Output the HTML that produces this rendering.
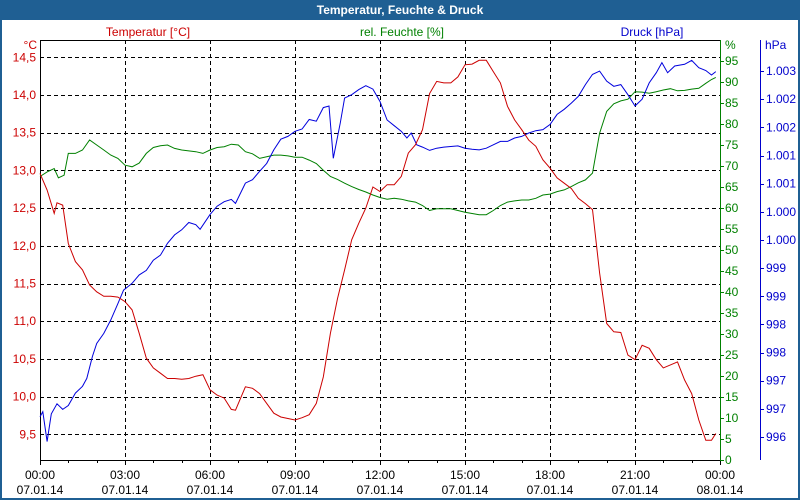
<!DOCTYPE html>
<html><head><meta charset="utf-8"><style>
body{margin:0;background:#fff;}
#wrap{position:relative;width:800px;height:500px;overflow:hidden;font-family:"Liberation Sans",sans-serif;}
text{font-family:"Liberation Sans",sans-serif;font-size:12px;}
</style></head><body>
<div id="wrap">
<svg id="chart" width="800" height="500" xmlns="http://www.w3.org/2000/svg">
<rect x="0" y="0" width="800" height="500" fill="#1f5f93"/>
<rect x="2" y="20" width="796" height="478" fill="#ffffff"/>
<text x="400" y="14" text-anchor="middle" fill="#ffffff" font-weight="bold">Temperatur, Feuchte &amp; Druck</text>
<text x="148" y="36" text-anchor="middle" fill="#cc0000">Temperatur [°C]</text>
<text x="402" y="36" text-anchor="middle" fill="#008000">rel. Feuchte [%]</text>
<text x="652" y="36" text-anchor="middle" fill="#0000cc">Druck [hPa]</text>
<g id="grid"></g><g id="axes"></g><g id="series"></g>
</svg>
</div>
<script>
const xTickLabels=["00:00","03:00","06:00","09:00","12:00","15:00","18:00","21:00","00:00"];
const xDateLabels=["07.01.14","07.01.14","07.01.14","07.01.14","07.01.14","07.01.14","07.01.14","07.01.14","08.01.14"];
const tempTicks=[9.5,10.0,10.5,11.0,11.5,12.0,12.5,13.0,13.5,14.0,14.5];
const humTicks=[0,5,10,15,20,25,30,35,40,45,50,55,60,65,70,75,80,85,90,95];
const presTicks=[996,996.5,997,997.5,998,998.5,999,999.5,1000,1000.5,1001,1001.5,1002,1002.5];
const presTickLabels=["996","997","997","998","998","999","999","1.000","1.000","1.001","1.001","1.002","1.002","1.003"];

const tempHours=[0,0.25,0.5,0.6,0.8,1,1.25,1.5,1.75,2,2.25,2.5,2.75,3,3.25,3.5,3.75,4,4.25,4.5,4.75,5,5.25,5.5,5.75,6,6.25,6.5,6.75,6.9,7.25,7.5,7.75,8,8.25,8.5,8.75,9,9.25,9.5,9.75,10,10.25,10.5,10.75,11,11.25,11.5,11.75,12,12.25,12.5,12.75,13,13.25,13.5,13.75,14,14.25,14.5,14.75,15,15.25,15.5,15.75,16,16.25,16.5,16.75,17,17.25,17.5,17.75,18,18.25,18.5,18.75,19,19.25,19.5,19.75,20,20.25,20.5,20.75,21,21.25,21.5,21.75,22,22.25,22.5,22.75,23,23.25,23.5,23.7,23.85];
const tempValues=[12.96,12.74,12.43,12.57,12.54,12.03,11.79,11.68,11.48,11.39,11.33,11.33,11.32,11.26,11.15,10.84,10.51,10.38,10.31,10.24,10.24,10.23,10.24,10.27,10.29,10.09,10.02,9.98,9.83,9.82,10.13,10.11,10.04,9.91,9.78,9.73,9.71,9.69,9.72,9.76,9.91,10.26,10.84,11.30,11.68,12.08,12.30,12.50,12.78,12.72,12.81,12.81,12.92,13.23,13.34,13.54,14.02,14.18,14.16,14.16,14.24,14.40,14.41,14.46,14.46,14.31,14.16,13.85,13.67,13.54,13.40,13.32,13.14,13.03,12.90,12.83,12.76,12.63,12.56,12.48,11.64,10.97,10.86,10.85,10.55,10.49,10.68,10.64,10.49,10.38,10.42,10.46,10.22,10.04,9.69,9.42,9.42,9.51];

const humHours=[0,0.25,0.5,0.65,0.85,1,1.25,1.5,1.75,2,2.25,2.5,2.75,3,3.25,3.5,3.75,4,4.25,4.5,4.75,5,5.5,5.75,6,6.25,6.5,6.75,7,7.25,7.5,7.75,8,8.25,8.5,8.75,9,9.25,9.5,9.75,10,10.25,10.5,10.75,11,11.25,11.5,11.75,12,12.25,12.5,12.75,13,13.25,13.5,13.75,14,14.5,14.75,15,15.25,15.5,15.75,16,16.25,16.5,16.75,17,17.25,17.5,17.75,18,18.25,18.5,18.75,19,19.25,19.5,19.75,20,20.25,20.5,20.75,21,21.25,21.5,21.75,22,22.25,22.5,22.75,23,23.25,23.5,23.7,23.85];
const humValues=[67.5,68.6,69.4,67.2,67.8,73.0,73.0,73.8,76.2,75.0,73.8,72.6,71.8,70.2,69.8,70.7,73.0,74.4,74.8,75.0,74.2,73.8,73.4,73.0,73.8,74.4,74.6,75.2,75.0,73.4,72.9,71.8,72.2,72.6,72.6,72.4,72.1,72.1,71.4,70.6,69.0,67.5,66.8,65.9,65.1,64.4,63.8,63.1,62.5,62.1,62.3,62.1,61.7,61.4,60.6,59.4,59.8,59.8,59.4,59.0,58.7,58.4,58.4,59.4,60.6,61.4,61.7,61.9,61.9,62.3,63.1,63.3,63.9,64.3,65.1,66.0,66.7,68.3,77.8,83.0,84.8,85.5,85.9,87.7,87.6,87.3,87.7,88.1,88.4,87.9,88.0,88.3,88.5,89.7,90.6,91.1];

const presHours=[0,0.1,0.25,0.4,0.6,0.8,1,1.25,1.5,1.65,1.85,2,2.25,2.5,2.75,2.95,3.25,3.5,3.75,4,4.25,4.5,4.75,5,5.25,5.5,5.65,6,6.25,6.5,6.75,6.9,7.25,7.5,7.75,8,8.25,8.5,8.75,9,9.25,9.5,9.75,10,10.2,10.35,10.6,10.75,11,11.25,11.5,11.75,12,12.25,12.5,12.75,12.95,13.1,13.3,13.5,13.75,14,14.25,14.5,14.75,15,15.25,15.5,15.75,16,16.25,16.5,16.75,17,17.25,17.5,17.75,18,18.25,18.5,18.75,19,19.25,19.5,19.75,20,20.25,20.5,20.75,21,21.25,21.5,21.75,21.95,22.15,22.4,22.75,23,23.25,23.5,23.7,23.85];
const presValues=[996.36,996.45,995.92,996.41,996.59,996.49,996.56,996.78,996.90,997.04,997.43,997.66,997.84,998.08,998.37,998.61,998.73,998.88,998.96,999.14,999.23,999.44,999.59,999.68,999.81,999.77,999.69,999.95,1000.10,1000.18,1000.22,1000.15,1000.51,1000.57,1000.72,1000.86,1001.10,1001.29,1001.34,1001.43,1001.47,1001.64,1001.61,1001.85,1001.88,1000.95,1001.58,1002.02,1002.08,1002.17,1002.24,1002.18,1001.96,1001.63,1001.53,1001.43,1001.31,1001.40,1001.19,1001.15,1001.09,1001.13,1001.15,1001.16,1001.17,1001.13,1001.11,1001.10,1001.13,1001.19,1001.25,1001.25,1001.31,1001.34,1001.40,1001.44,1001.46,1001.55,1001.73,1001.82,1001.93,1002.05,1002.26,1002.44,1002.50,1002.32,1002.23,1002.26,1002.08,1001.88,1002.00,1002.29,1002.47,1002.65,1002.47,1002.59,1002.62,1002.69,1002.56,1002.51,1002.43,1002.49];

const L=40,R=720,T=40,B=460;
function xS(h){return L+(R-L)*h/24;}
function yT(v){return 57.3+(14.5-v)*75.4;}
function yH(v){return B-v*4.2;}
function yP(v){return 437-(v-996)*56.3;}
function px(v){return Math.round(v)+0.5;}
const NS="http://www.w3.org/2000/svg";
function mk(tag,attrs,parent,txt){const e=document.createElementNS(NS,tag);for(const k in attrs)e.setAttribute(k,attrs[k]);if(txt!==undefined)e.textContent=txt;parent.appendChild(e);return e;}
const grid=document.getElementById('grid'),axes=document.getElementById('axes'),series=document.getElementById('series');

tempTicks.forEach(v=>{
 const y=px(yT(v));
 const l=mk('line',{x1:L,x2:R,y1:y,y2:y,stroke:'#000','stroke-dasharray':'4,3','stroke-width':1},grid);
 
 
 const t=mk('text',{x:36,y:yT(v)+4,'text-anchor':'end',fill:'#cc0000'},axes,v.toFixed(1).replace('.',','));
 
 
});
for(let i=1;i<8;i++){
 const x=px(xS(i*3));
 const l=mk('line',{x1:x,x2:x,y1:T,y2:B,stroke:'#000','stroke-dasharray':'4,3','stroke-width':1},grid);
 
 
}
xTickLabels.forEach((s,i)=>{
 const x=xS(i*3);
 const a=mk('text',{x:x,y:479,'text-anchor':'middle',fill:'#000'},axes,s);
 
 
 const b=mk('text',{x:x,y:494,'text-anchor':'middle',fill:'#000'},axes,xDateLabels[i]);
 
 
});
for(let h=0;h<=24;h++){
 const x=px(xS(h));
 const tk=mk('line',{x1:x,x2:x,y1:B,y2:B+(h%3===0?5:3),stroke:'#000'},axes);
 
 
}
humTicks.forEach(v=>{
 const y=px(yH(v));
 const tk=mk('line',{x1:R,x2:R+4,y1:y,y2:y,stroke:'#008000'},axes);
 
 
 const t=mk('text',{x:725,y:yH(v)+4,fill:'#008000'},axes,String(v));
 
 
});
presTicks.forEach((v,i)=>{
 const y=px(yP(v));
 const tk=mk('line',{x1:760,x2:764,y1:y,y2:y,stroke:'#0000cc'},axes);
 
 
 const t=mk('text',{x:766,y:yP(v)+4,fill:'#0000cc'},axes,presTickLabels[i]);
 
 
});
const u1=mk('text',{x:37,y:49,'text-anchor':'end',fill:'#cc0000'},axes,'°C');


const u2=mk('text',{x:725,y:49,fill:'#008000'},axes,'%');


const u3=mk('text',{x:765,y:49,fill:'#0000cc'},axes,'hPa');


const ax1=mk('polyline',{points:`${R+0.5},${T+0.5} ${L+0.5},${T+0.5} ${L+0.5},${B+0.5} ${R+0.5},${B+0.5}`,fill:'none',stroke:'#000'},axes);


const ax2=mk('line',{x1:R+0.5,x2:R+0.5,y1:T,y2:B+1,stroke:'#008000'},axes);


const ax3=mk('line',{x1:760.5,x2:760.5,y1:T,y2:B,stroke:'#0000cc'},axes);



function line(hs,vs,yf,col,name){
 const pts=hs.map((h,i)=>xS(h).toFixed(1)+','+yf(vs[i]).toFixed(1)).join(' ');
 const p=mk('polyline',{points:pts,fill:'none',stroke:col,'stroke-width':1},series);
 
 
}
line(humHours,humValues,yH,'#008000','humidity-line');
line(presHours,presValues,yP,'#0000dd','pressure-line');
line(tempHours,tempValues,yT,'#cc0000','temperature-line');
</script>
</body></html>
